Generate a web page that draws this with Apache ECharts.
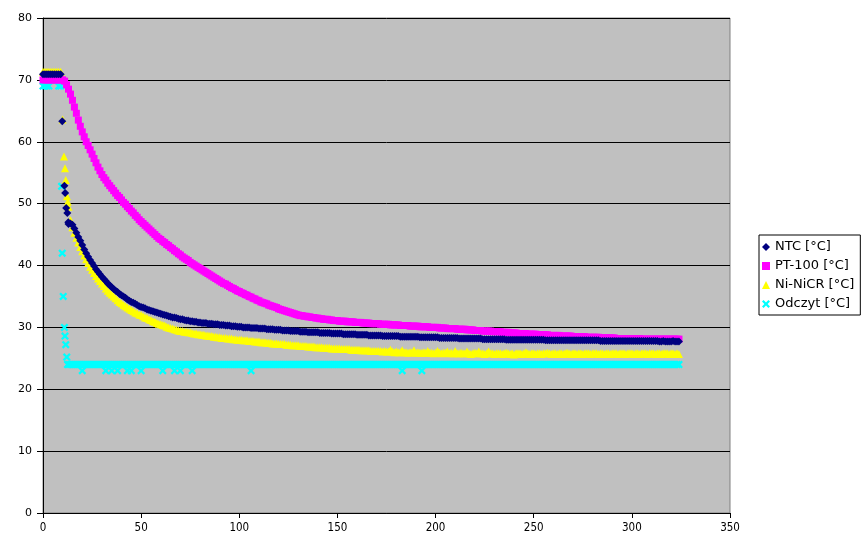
<!DOCTYPE html>
<html>
<head>
<meta charset="utf-8">
<script src="https://cdn.jsdelivr.net/npm/echarts@6/dist/echarts.min.js"></script>
<style>html,body{margin:0;padding:0;background:#fff;}#c{width:867px;height:548px;}</style>
</head>
<body>
<div id="c"></div>
<script>
// ---- names / ticks ----
const seriesNames = ['NTC [\u00b0C]', 'PT-100 [\u00b0C]', 'Ni-NiCR [\u00b0C]', 'Odczyt [\u00b0C]'];
const xTicks = [0, 50, 100, 150, 200, 250, 300, 350];
const yTicks = [0, 10, 20, 30, 40, 50, 60, 70, 80];

// ---- shared 1 s time grid (s), 13..324 ----
const timeGrid = [
  13,14,15,16,17,18,19,20,21,22,23,24,25,26,27,28,29,30,31,32,
  33,34,35,36,37,38,39,40,41,42,43,44,45,46,47,48,49,50,51,52,
  53,54,55,56,57,58,59,60,61,62,63,64,65,66,67,68,69,70,71,72,
  73,74,75,76,77,78,79,80,81,82,83,84,85,86,87,88,89,90,91,92,
  93,94,95,96,97,98,99,100,101,102,103,104,105,106,107,108,109,110,111,112,
  113,114,115,116,117,118,119,120,121,122,123,124,125,126,127,128,129,130,131,132,
  133,134,135,136,137,138,139,140,141,142,143,144,145,146,147,148,149,150,151,152,
  153,154,155,156,157,158,159,160,161,162,163,164,165,166,167,168,169,170,171,172,
  173,174,175,176,177,178,179,180,181,182,183,184,185,186,187,188,189,190,191,192,
  193,194,195,196,197,198,199,200,201,202,203,204,205,206,207,208,209,210,211,212,
  213,214,215,216,217,218,219,220,221,222,223,224,225,226,227,228,229,230,231,232,
  233,234,235,236,237,238,239,240,241,242,243,244,245,246,247,248,249,250,251,252,
  253,254,255,256,257,258,259,260,261,262,263,264,265,266,267,268,269,270,271,272,
  273,274,275,276,277,278,279,280,281,282,283,284,285,286,287,288,289,290,291,292,
  293,294,295,296,297,298,299,300,301,302,303,304,305,306,307,308,309,310,311,312,
  313,314,315,316,317,318,319,320,321,322,323,324
];

// ---- NTC ----
const ntcEarlyTime  = [0,1,2,3,4,5,6,7,8,9,9.8,10.9,11.3,11.8,12.4,12.9];
const ntcEarlyValue = [70.9,70.9,70.9,70.9,70.9,70.9,70.9,70.9,70.9,70.9,63.3,52.9,51.7,49.3,48.5,47.0];
const ntcValue = [
  46.7,46.8,46.6,46.0,45.3,44.6,44.0,43.3,42.6,42.0,41.4,40.9,40.4,39.9,39.4,39.0,38.6,38.2,37.8,37.5,
  37.1,36.8,36.5,36.2,35.9,35.7,35.4,35.2,35.0,34.8,34.5,34.3,34.1,34.0,33.8,33.6,33.4,33.3,33.2,33.1,
  32.9,32.8,32.7,32.6,32.5,32.4,32.3,32.2,32.1,32.0,31.9,31.8,31.7,31.6,31.6,31.5,31.4,31.3,31.3,31.2,
  31.1,31.1,31.0,31.0,30.9,30.9,30.8,30.8,30.7,30.7,30.7,30.6,30.6,30.6,30.5,30.5,30.5,30.4,30.4,30.4,
  30.3,30.3,30.3,30.2,30.2,30.2,30.1,30.1,30.1,30.0,30.0,30.0,30.0,29.9,29.9,29.9,29.9,29.8,29.8,29.8,
  29.8,29.7,29.7,29.7,29.7,29.6,29.6,29.6,29.6,29.5,29.5,29.5,29.5,29.4,29.4,29.4,29.4,29.4,29.3,29.3,
  29.3,29.3,29.2,29.2,29.2,29.2,29.2,29.2,29.1,29.1,29.1,29.1,29.1,29.1,29.0,29.0,29.0,29.0,29.0,29.0,
  28.9,28.9,28.9,28.9,28.9,28.9,28.9,28.8,28.8,28.8,28.8,28.8,28.8,28.7,28.7,28.7,28.7,28.7,28.7,28.7,
  28.6,28.6,28.6,28.6,28.6,28.6,28.6,28.6,28.6,28.5,28.5,28.5,28.5,28.5,28.5,28.5,28.5,28.5,28.5,28.4,
  28.4,28.4,28.4,28.4,28.4,28.4,28.4,28.4,28.4,28.3,28.3,28.3,28.3,28.3,28.3,28.3,28.3,28.3,28.3,28.2,
  28.2,28.2,28.2,28.2,28.2,28.2,28.2,28.2,28.2,28.2,28.2,28.1,28.1,28.1,28.1,28.1,28.1,28.1,28.1,28.1,
  28.1,28.1,28.1,28.0,28.0,28.0,28.0,28.0,28.0,28.0,28.0,28.0,28.0,28.0,28.0,28.0,28.0,28.0,28.0,28.0,
  28.0,28.0,28.0,27.9,27.9,27.9,27.9,27.9,27.9,27.9,27.9,27.9,27.9,27.9,27.9,27.9,27.9,27.9,27.9,27.9,
  27.9,27.9,27.9,27.9,27.9,27.9,27.9,27.9,27.9,27.9,27.9,27.8,27.8,27.8,27.8,27.8,27.8,27.8,27.8,27.8,
  27.8,27.8,27.8,27.8,27.8,27.8,27.8,27.8,27.8,27.8,27.8,27.8,27.8,27.8,27.8,27.8,27.8,27.8,27.8,27.8,
  27.8,27.7,27.7,27.8,27.7,27.7,27.7,27.7,27.8,27.7,27.7,27.7
];

// ---- PT-100 ----
const ptEarlyTime  = [0,1,2,3,4,5,6,7,8,9,10,11,12];
const ptEarlyValue = [70.0,70.0,70.0,70.0,70.0,70.0,70.0,70.0,70.0,70.0,70.0,69.8,69.2];
const ptValue = [
  68.5,67.7,66.7,65.6,64.6,63.5,62.5,61.6,60.8,60.0,59.4,58.7,58.0,57.3,56.6,55.9,55.3,54.7,54.2,53.8,
  53.3,52.9,52.5,52.1,51.7,51.3,51.0,50.6,50.2,49.9,49.5,49.2,48.8,48.5,48.1,47.8,47.4,47.1,46.8,46.5,
  46.2,45.9,45.6,45.3,45.0,44.7,44.4,44.2,43.9,43.7,43.4,43.2,42.9,42.7,42.4,42.2,41.9,41.7,41.4,41.2,
  41.0,40.8,40.5,40.3,40.1,39.9,39.7,39.5,39.3,39.1,38.9,38.7,38.5,38.3,38.1,37.9,37.7,37.5,37.3,37.1,
  37.0,36.8,36.6,36.4,36.3,36.1,35.9,35.8,35.6,35.5,35.3,35.2,35.0,34.9,34.7,34.6,34.4,34.3,34.1,34.0,
  33.9,33.8,33.6,33.5,33.4,33.3,33.2,33.0,32.9,32.8,32.7,32.6,32.5,32.4,32.3,32.2,32.1,32.0,31.9,31.9,
  31.8,31.8,31.7,31.7,31.6,31.6,31.5,31.5,31.4,31.4,31.3,31.3,31.3,31.2,31.2,31.1,31.1,31.1,31.0,31.0,
  31.0,31.0,30.9,30.9,30.9,30.9,30.8,30.8,30.8,30.8,30.7,30.7,30.7,30.7,30.6,30.6,30.6,30.6,30.6,30.5,
  30.5,30.5,30.5,30.5,30.4,30.4,30.4,30.4,30.4,30.3,30.3,30.3,30.3,30.3,30.2,30.2,30.2,30.2,30.2,30.1,
  30.1,30.1,30.1,30.1,30.0,30.0,30.0,30.0,30.0,29.9,29.9,29.9,29.9,29.8,29.8,29.8,29.8,29.8,29.7,29.7,
  29.7,29.7,29.7,29.6,29.6,29.6,29.6,29.5,29.5,29.5,29.5,29.4,29.4,29.4,29.4,29.4,29.3,29.3,29.3,29.3,
  29.3,29.2,29.2,29.2,29.2,29.1,29.1,29.1,29.1,29.0,29.0,29.0,29.0,29.0,28.9,28.9,28.9,28.9,28.9,28.8,
  28.8,28.8,28.8,28.8,28.8,28.7,28.7,28.7,28.7,28.7,28.7,28.6,28.6,28.6,28.6,28.6,28.6,28.5,28.5,28.5,
  28.5,28.5,28.5,28.5,28.4,28.4,28.4,28.4,28.4,28.4,28.4,28.3,28.3,28.3,28.3,28.3,28.3,28.3,28.3,28.2,
  28.2,28.2,28.2,28.2,28.2,28.2,28.2,28.2,28.2,28.2,28.2,28.2,28.1,28.1,28.1,28.1,28.1,28.1,28.1,28.1,
  28.1,28.1,28.1,28.1,28.1,28.1,28.1,28.1,28.1,28.1,28.1,28.1
];

// ---- Ni-NiCR ----
const niEarlyTime  = [0,1,2,3,4,5,6,7,8,9,10.0,10.7,11.2,11.6,12.2,12.6];
const niEarlyValue = [71.3,71.3,71.3,71.3,71.3,71.3,71.3,71.3,71.3,71.3,63.6,57.6,55.7,53.8,51.2,50.3];
const niValue = [
  49.5,47.3,46.2,45.3,44.5,43.7,43.0,42.3,41.6,41.0,40.4,39.8,39.3,38.8,38.3,37.9,37.5,37.1,36.7,36.3,
  35.9,35.6,35.3,35.0,34.7,34.4,34.1,33.9,33.6,33.4,33.2,33.0,32.8,32.6,32.4,32.3,32.1,32.0,31.8,31.6,
  31.5,31.3,31.2,31.0,30.9,30.7,30.6,30.5,30.4,30.3,30.1,30.0,29.9,29.8,29.7,29.6,29.5,29.4,29.4,29.3,
  29.3,29.2,29.2,29.1,29.0,29.0,28.9,28.9,28.8,28.8,28.7,28.7,28.6,28.6,28.5,28.5,28.4,28.4,28.3,28.3,
  28.3,28.2,28.2,28.2,28.1,28.1,28.0,28.0,28.0,27.9,27.9,27.9,27.8,27.8,27.8,27.7,27.7,27.7,27.6,27.6,
  27.6,27.5,27.5,27.5,27.4,27.4,27.4,27.3,27.3,27.3,27.3,27.2,27.2,27.2,27.1,27.1,27.1,27.1,27.0,27.0,
  27.0,27.0,26.9,26.9,26.9,26.9,26.8,26.8,26.8,26.8,26.7,26.7,26.7,26.7,26.6,26.6,26.6,26.6,26.6,26.5,
  26.5,26.5,26.5,26.5,26.4,26.4,26.4,26.4,26.4,26.3,26.3,26.3,26.3,26.3,26.2,26.2,26.2,26.2,26.2,26.2,
  26.1,26.2,26.1,26.1,26.4,26.1,26.0,26.1,26.0,26.0,26.3,26.0,26.0,25.9,26.0,26.0,26.3,25.9,26.0,25.9,
  25.9,26.0,25.9,26.2,25.9,25.9,25.8,25.9,26.2,25.9,25.8,25.9,25.9,26.1,25.8,25.9,25.8,26.2,25.8,25.8,
  25.9,25.8,25.8,26.1,25.8,25.7,25.8,25.9,25.8,26.1,25.8,25.8,25.7,25.8,26.1,25.8,25.8,25.7,25.8,25.8,
  25.8,25.7,25.8,25.9,25.8,25.7,25.8,25.6,25.8,25.8,25.8,25.7,25.8,26.0,25.8,25.7,25.8,25.8,25.7,25.8,
  25.8,25.7,25.8,25.8,25.9,25.8,25.7,25.8,25.8,25.7,25.8,25.8,25.7,25.8,25.9,25.8,25.7,25.8,25.8,25.7,
  25.8,25.8,25.7,25.8,25.8,25.8,25.7,25.8,25.8,25.8,25.7,25.8,25.8,25.7,25.8,25.8,25.7,25.8,25.8,25.8,
  25.7,25.8,25.8,25.8,25.7,25.8,25.8,25.8,25.7,25.8,25.8,25.7,25.8,25.8,25.8,25.7,25.8,25.8,25.8,25.7,
  25.8,25.8,25.7,25.8,25.8,25.8,25.7,25.8,25.8,25.7,25.8,25.7
];

// ---- Odczyt (reading) ----
const odczytEarlyTime  = [0,1,2,3,4,5,6,7,8,9,9.5,9.8,10.3,10.9,11.2,11.6,12.1,12.5];
const odczytEarlyValue = [69,69,69,69,70,70,70,70,69,69,52.8,42.0,35.0,30.0,28.6,27.2,25.2,24];
const odczytValue = [
  24,24,24,24,24,24,24,24,24,24,24,24,24,24,24,24,24,24,24,24,
  24,24,24,24,24,24,24,24,24,24,24,24,24,24,24,24,24,24,24,24,
  24,24,24,24,24,24,24,24,24,24,24,24,24,24,24,24,24,24,24,24,
  24,24,24,24,24,24,24,24,24,24,24,24,24,24,24,24,24,24,24,24,
  24,24,24,24,24,24,24,24,24,24,24,24,24,24,24,24,24,24,24,24,
  24,24,24,24,24,24,24,24,24,24,24,24,24,24,24,24,24,24,24,24,
  24,24,24,24,24,24,24,24,24,24,24,24,24,24,24,24,24,24,24,24,
  24,24,24,24,24,24,24,24,24,24,24,24,24,24,24,24,24,24,24,24,
  24,24,24,24,24,24,24,24,24,24,24,24,24,24,24,24,24,24,24,24,
  24,24,24,24,24,24,24,24,24,24,24,24,24,24,24,24,24,24,24,24,
  24,24,24,24,24,24,24,24,24,24,24,24,24,24,24,24,24,24,24,24,
  24,24,24,24,24,24,24,24,24,24,24,24,24,24,24,24,24,24,24,24,
  24,24,24,24,24,24,24,24,24,24,24,24,24,24,24,24,24,24,24,24,
  24,24,24,24,24,24,24,24,24,24,24,24,24,24,24,24,24,24,24,24,
  24,24,24,24,24,24,24,24,24,24,24,24,24,24,24,24,24,24,24,24,
  24,24,24,24,24,24,24,24,24,24,24,24
];
const odczytDipTime  = [20,32,35,38,43,45,50,61,67,70,76,106,183,193];
const odczytDipValue = [23,23,23,23,23,23,23,23,23,23,23,23,23,23];

// ---- build ----
function pairs(ts, vs) { return ts.map(function (t, i) { return [t, vs[i]]; }); }
const crossPath = 'path://M0,2L2,0L5,3L8,0L10,2L7,5L10,8L8,10L5,7L2,10L0,8L3,5Z';

const ntcData = pairs(ntcEarlyTime, ntcEarlyValue).concat(pairs(timeGrid, ntcValue));
const ptData = pairs(ptEarlyTime, ptEarlyValue).concat(pairs(timeGrid, ptValue));
const niData = pairs(niEarlyTime, niEarlyValue).concat(pairs(timeGrid, niValue));
const odczytData = pairs(odczytEarlyTime, odczytEarlyValue)
  .concat(pairs(timeGrid, odczytValue))
  .concat(pairs(odczytDipTime, odczytDipValue));

const chart = echarts.init(document.getElementById('c'), null, { renderer: 'canvas' });
chart.setOption({
  backgroundColor: '#ffffff',
  animation: false,
  grid: {
    left: 43, right: 137, top: 18, bottom: 35,
    show: true, backgroundColor: '#c0c0c0', borderColor: '#808080', borderWidth: 1
  },
  xAxis: {
    type: 'value', min: xTicks[0], max: xTicks[xTicks.length - 1], interval: 50,
    axisLine: { show: true, onZero: false, lineStyle: { color: '#000', width: 1 } },
    axisTick: { show: true, length: 5, lineStyle: { color: '#000' } },
    axisLabel: { color: '#000', fontFamily: '"Liberation Sans Narrow", "DejaVu Sans Condensed", "Liberation Sans"', fontSize: 11.5, margin: 9 },
    splitLine: { show: false }
  },
  yAxis: {
    type: 'value', min: yTicks[0], max: yTicks[yTicks.length - 1], interval: 10,
    axisLine: { show: true, lineStyle: { color: '#000', width: 1 } },
    axisTick: { show: true, length: 6, lineStyle: { color: '#000' } },
    axisLabel: { color: '#000', fontFamily: '"DejaVu Sans"', fontSize: 11, margin: 11 },
    splitLine: { show: true, lineStyle: { color: '#000', width: 1 } }
  },
  legend: {
    orient: 'vertical', left: 759, top: 235,
    padding: [4, 6, 3, 3], itemGap: 3, itemWidth: 8, itemHeight: 8,
    borderColor: '#000', borderWidth: 1, backgroundColor: '#fff',
    textStyle: { fontFamily: '"DejaVu Sans"', fontSize: 13, color: '#000', lineHeight: 16 },
    data: [
      { name: seriesNames[0], icon: 'diamond' },
      { name: seriesNames[1], icon: 'rect' },
      { name: seriesNames[2], icon: 'triangle' },
      { name: seriesNames[3], icon: crossPath }
    ]
  },
  series: [
    { name: seriesNames[3], type: 'scatter', symbol: crossPath, symbolSize: 8, itemStyle: { color: '#00ffff', opacity: 1 }, data: odczytData, z: 2 },
    { name: seriesNames[2], type: 'scatter', symbol: 'triangle', symbolSize: 8, itemStyle: { color: '#ffff00', opacity: 1 }, data: niData, z: 3 },
    { name: seriesNames[1], type: 'scatter', symbol: 'rect', symbolSize: 7, itemStyle: { color: '#ff00ff', opacity: 1 }, data: ptData, z: 4 },
    { name: seriesNames[0], type: 'scatter', symbol: 'diamond', symbolSize: 8, itemStyle: { color: '#000080', opacity: 1 }, data: ntcData, z: 5 }
  ]
});
</script>
</body>
</html>
